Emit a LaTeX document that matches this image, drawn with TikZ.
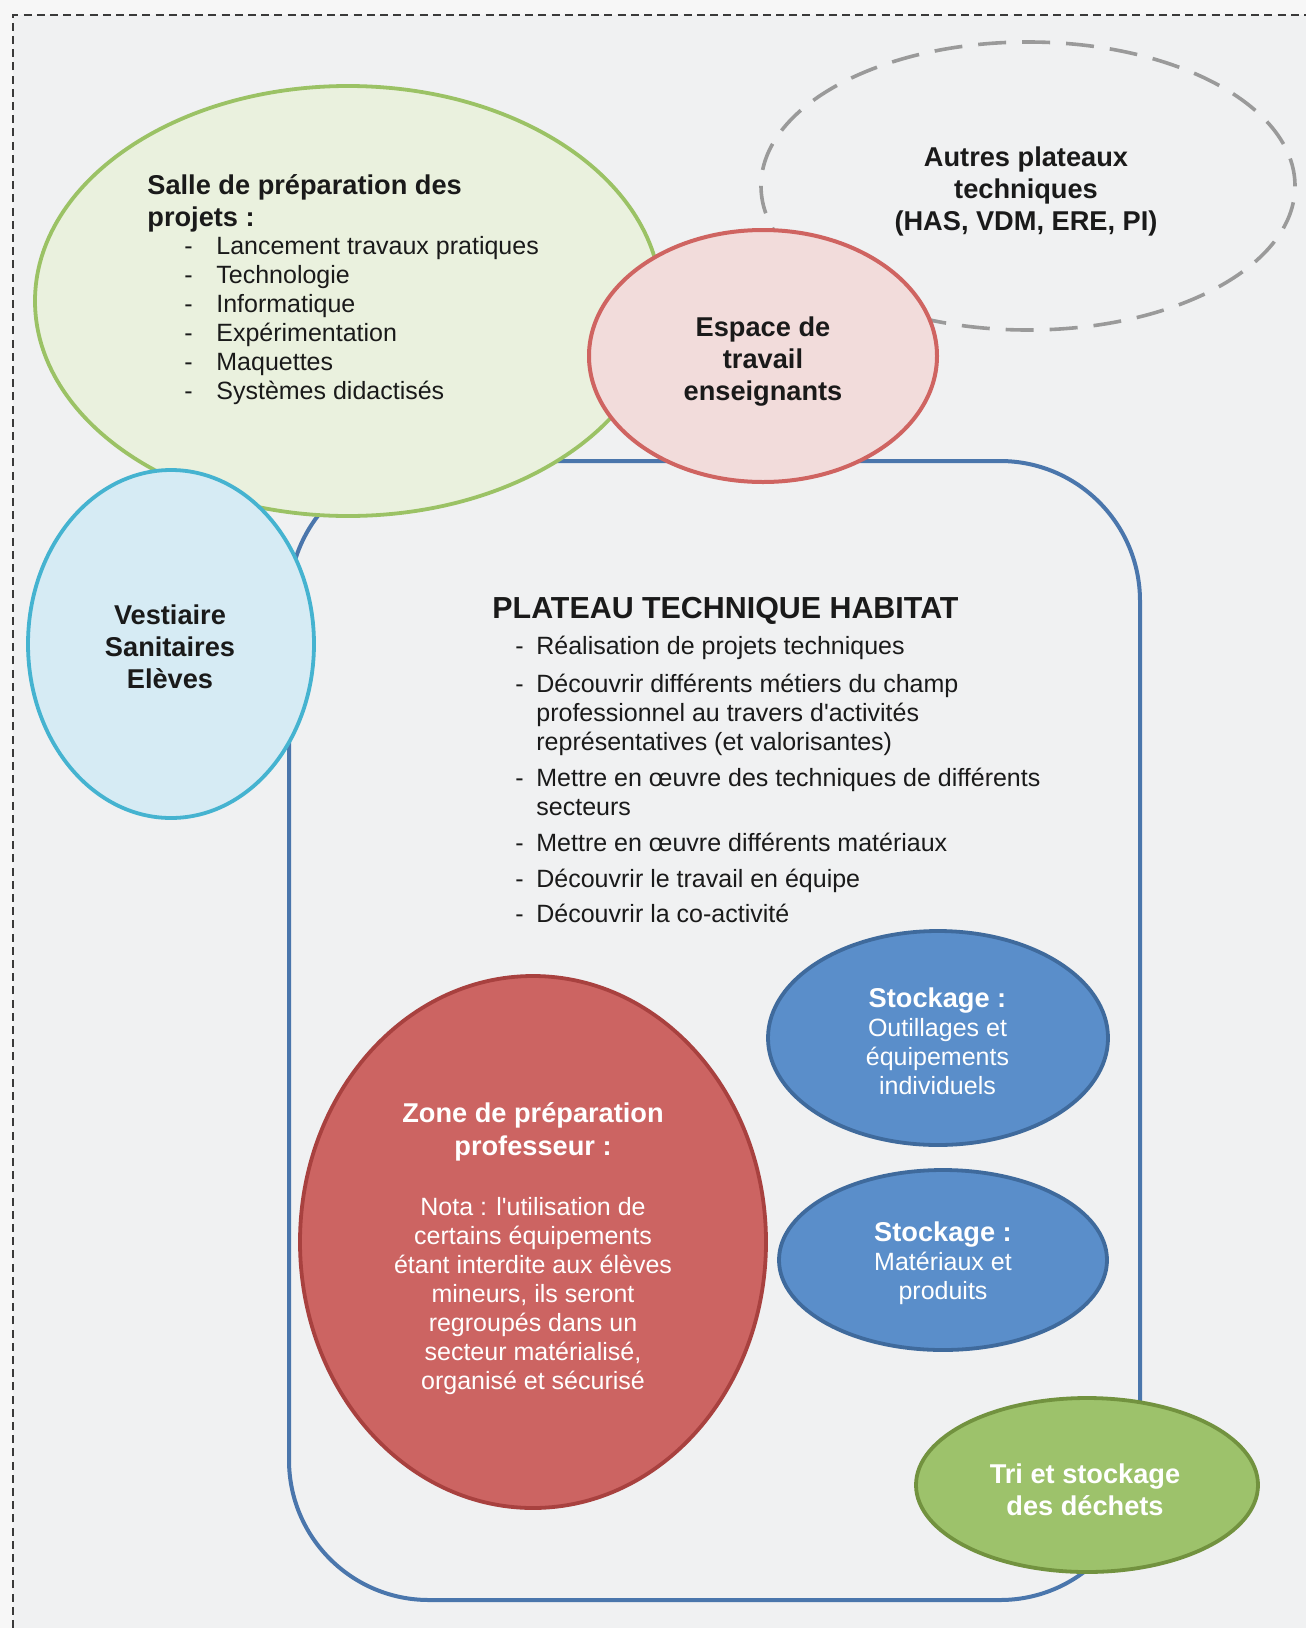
\documentclass[tikz,border=0pt]{standalone}
\usepackage{fontspec}
\setmainfont{Liberation Sans}[Ligatures=TeXOff]
\usetikzlibrary{shapes.geometric}
\definecolor{outerbg}{HTML}{F7F7F7}
\definecolor{bg}{HTML}{F0F1F2}
\definecolor{borderc}{HTML}{3A3A3A}
\definecolor{salfill}{HTML}{EAF1DE}
\definecolor{saldraw}{HTML}{9BC265}
\definecolor{autdraw}{HTML}{9A9A9A}
\definecolor{espfill}{HTML}{F2DCDB}
\definecolor{espdraw}{HTML}{CF6461}
\definecolor{vesfill}{HTML}{D6EBF4}
\definecolor{vesdraw}{HTML}{45B3D0}
\definecolor{platdraw}{HTML}{4A76AC}
\definecolor{zonfill}{HTML}{CC6462}
\definecolor{zondraw}{HTML}{A8413F}
\definecolor{stofill}{HTML}{5A8ECA}
\definecolor{stodraw}{HTML}{3F6A9C}
\definecolor{trifill}{HTML}{9DC26B}
\definecolor{tridraw}{HTML}{72923F}
\definecolor{txt}{HTML}{1A1A1A}
\tikzset{
  blob/.style={ellipse, inner sep=0pt, outer sep=0pt, line width=1.9pt},
  lbl/.style={inner sep=0pt, align=center, text=txt,
    font=\fontsize{13.6}{16}\selectfont\bfseries},
  body/.style={inner sep=0pt, text=txt, font=\fontsize{12.5}{14.5}\selectfont},
  wbody/.style={inner sep=0pt, align=center, text=white,
    font=\fontsize{12.5}{14.5}\selectfont},
}
\newcommand{\hd}[1]{{\fontsize{13.6}{14.5}\selectfont\bfseries #1}}
\begin{document}
\begin{tikzpicture}[x=0.5pt,y=-0.5pt]
% background and page border
\fill[outerbg] (0,0) rectangle (1306,1628);
\fill[bg] (13,15) rectangle (1306,1628);
\useasboundingbox (0,0) rectangle (1306,1628);
\coordinate (bl) at (13,1628);
\coordinate (tl) at (13,15);
\coordinate (tr) at (1306,15);
\draw[borderc, line width=1pt, dash pattern=on 4pt off 2.6pt] (bl) -- (tl) -- (tr);

% shapes
\node[blob, draw=autdraw, line width=1.8pt, dash pattern=on 14pt off 8pt,
  minimum width=267pt, minimum height=144pt] (autres) at (1028,186) {};
\node[draw=platdraw, line width=2pt, rounded corners=70pt, inner sep=0pt,
  minimum width=425.5pt, minimum height=569.5pt] (plateau) at (714.5,1030.5) {};
\node[blob, draw=saldraw, fill=salfill, minimum width=313pt, minimum height=215pt]
  (salle) at (348,301) {};
\node[blob, draw=vesdraw, fill=vesfill, minimum width=143pt, minimum height=174pt]
  (vest) at (171,644) {};
\node[blob, draw=espdraw, fill=espfill, line width=2pt, minimum width=174pt, minimum height=126pt]
  (espace) at (763,356) {};
\node[blob, draw=zondraw, fill=zonfill, minimum width=233pt, minimum height=266pt]
  (zone) at (533,1242) {};
\node[blob, draw=stodraw, fill=stofill, minimum width=170pt, minimum height=107pt]
  (stock1) at (938,1038) {};
\node[blob, draw=stodraw, fill=stofill, minimum width=164pt, minimum height=90pt]
  (stock2) at (943,1260) {};
\node[blob, draw=tridraw, fill=trifill, minimum width=171pt, minimum height=87pt]
  (tri) at (1087,1485) {};

% texts
\node[lbl, align=left, anchor=west] (salletitle) at (147,203)
  {Salle de préparation des\\projets :};
\node[body, anchor=west] (sallelist) at (184,321.5) {\begin{tabular}{@{}l@{}}
\makebox[16pt][l]{-}Lancement travaux pratiques\\
\makebox[16pt][l]{-}Technologie\\
\makebox[16pt][l]{-}Informatique\\
\makebox[16pt][l]{-}Expérimentation\\
\makebox[16pt][l]{-}Maquettes\\
\makebox[16pt][l]{-}Systèmes didactisés
\end{tabular}};
\node[lbl] (autrestxt) at (1026,191) {Autres plateaux\\techniques\\(HAS, VDM, ERE, PI)};
\node[lbl] (espacetxt) at (763,362) {Espace de\\travail\\enseignants};
\node[lbl] (vesttxt) at (170,647) {Vestiaire\\Sanitaires\\Elèves};
\node[lbl, anchor=west, font=\fontsize{15.2}{16}\selectfont\bfseries] (plattitle) at (492,611)
  {PLATEAU TECHNIQUE HABITAT};
\node[body, anchor=west] (platlist) at (515,783) {\begin{tabular}{@{}l@{}l@{}}
\makebox[10.5pt][l]{-} & Réalisation de projets techniques\\[4.5pt]
\makebox[10.5pt][l]{-} & Découvrir différents métiers du champ\\
 & professionnel au travers d'activités\\
 & représentatives (et valorisantes)\\[3.4pt]
\makebox[10.5pt][l]{-} & Mettre en œuvre des techniques de différents\\
 & secteurs\\[3.4pt]
\makebox[10.5pt][l]{-} & Mettre en œuvre différents matériaux\\[3.4pt]
\makebox[10.5pt][l]{-} & Découvrir le travail en équipe\\[3.4pt]
\makebox[10.5pt][l]{-} & Découvrir la co-activité
\end{tabular}};
\node[lbl, text=white, font=\fontsize{13.6}{16.5}\selectfont\bfseries] (zonetitle) at (533,1132)
  {Zone de préparation\\professeur :};
\node[wbody] (zonenote) at (533,1296) {Nota : l'utilisation de\\certains équipements\\étant interdite aux élèves\\mineurs, ils seront\\regroupés dans un\\secteur matérialisé,\\organisé et sécurisé};
\node[wbody] (stock1txt) at (937.5,1041) {\hd{Stockage :}\\Outillages et\\équipements\\individuels};
\node[wbody] (stock2txt) at (943,1263) {\hd{Stockage :}\\Matériaux et\\produits};
\node[lbl, text=white] (tritxt) at (1085,1490) {Tri et stockage\\des déchets};
\end{tikzpicture}
\end{document}
